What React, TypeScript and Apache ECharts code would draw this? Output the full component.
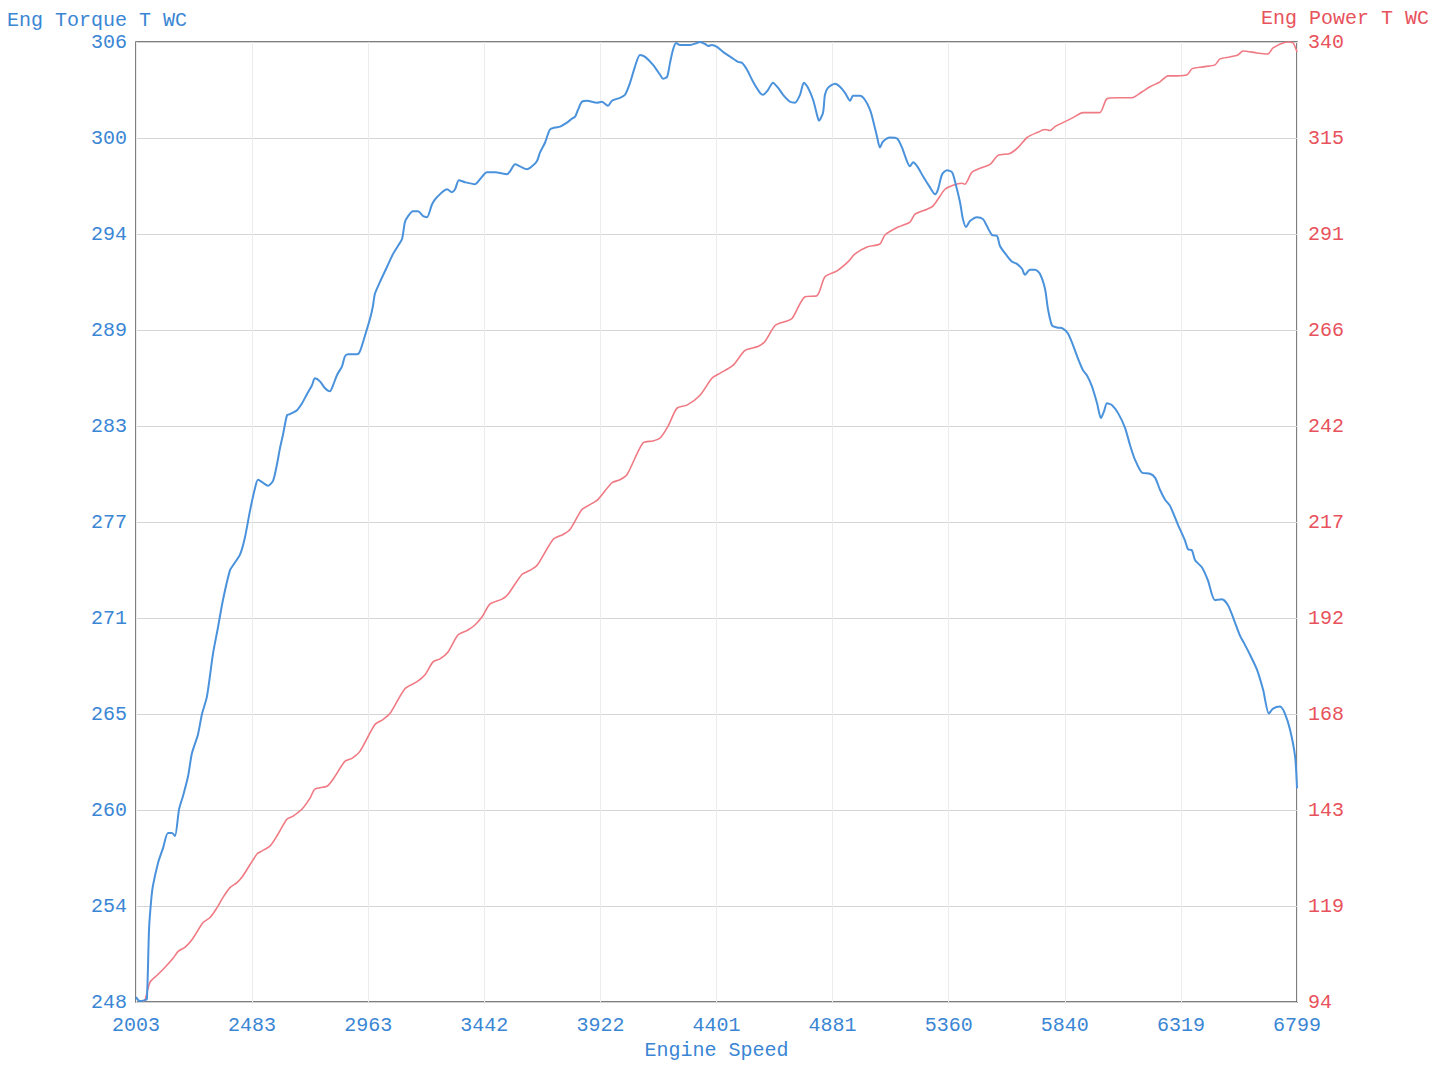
import React, { useEffect, useRef } from "react";
import * as echarts from "echarts";

const xTickLabels = ["2003", "2483", "2963", "3442", "3922", "4401", "4881", "5360", "5840", "6319", "6799"];
const torqueTickLabels = ["248", "254", "260", "265", "271", "277", "283", "289", "294", "300", "306"];
const powerTickLabels = ["94", "119", "143", "168", "192", "217", "242", "266", "291", "315", "340"];

const X_MIN = 2003, X_MAX = 6799, X_INT = 479.6;
const T_MIN = 248, T_MAX = 306, T_INT = 5.8;
const P_MIN = 94, P_MAX = 340, P_INT = 24.6;

// Engine speed (rpm) samples for the torque curve, and torque values
const torqueRpm = [
  2003, 2019, 2040, 2048, 2057, 2066, 2073, 2094, 2115, 2135, 2152, 2164, 2181, 2197, 2218, 2234, 2259, 2276, 2296,
  2321, 2342, 2362, 2391, 2404, 2433, 2453, 2474, 2495, 2507, 2528, 2548, 2569, 2585, 2598, 2610, 2627, 2639, 2668,
  2689, 2709, 2730, 2742, 2763, 2784, 2804, 2817, 2833, 2854, 2866, 2879, 2916, 2928, 2949, 2970, 2982, 2990, 3011,
  3040, 3065, 3085, 3102, 3114, 3127, 3147, 3168, 3189, 3205, 3226, 3246, 3288, 3308, 3321, 3337, 3362, 3403, 3424,
  3453, 3486, 3536, 3548, 3569, 3589, 3618, 3639, 3659, 3672, 3693, 3713, 3734, 3755, 3783, 3804, 3817, 3829, 3845,
  3866, 3907, 3928, 3940, 3953, 3969, 4002, 4023, 4044, 4064, 4085, 4106, 4139, 4168, 4180, 4197, 4209, 4221, 4234,
  4250, 4292, 4320, 4333, 4354, 4366, 4382, 4403, 4428, 4465, 4490, 4506, 4527, 4552, 4581, 4593, 4614, 4634, 4655,
  4676, 4705, 4725, 4746, 4762, 4779, 4800, 4816, 4824, 4841, 4849, 4862, 4891, 4911, 4932, 4953, 4965, 4994, 5014,
  5035, 5047, 5064, 5076, 5089, 5118, 5147, 5167, 5188, 5200, 5213, 5233, 5254, 5283, 5304, 5316, 5333, 5353, 5374,
  5386, 5407, 5419, 5432, 5448, 5477, 5502, 5518, 5539, 5560, 5572, 5601, 5622, 5642, 5663, 5675, 5696, 5717, 5737,
  5758, 5770, 5787, 5808, 5832, 5853, 5874, 5894, 5915, 5931, 5952, 5973, 5989, 6002, 6014, 6035, 6060, 6089, 6109,
  6130, 6159, 6192, 6213, 6233, 6254, 6274, 6307, 6336, 6349, 6365, 6378, 6406, 6431, 6460, 6489, 6514, 6539, 6564,
  6584, 6605, 6634, 6659, 6683, 6700, 6729, 6749, 6770, 6791, 6799,
];
const torqueValues = [
  248.3, 248.06, 248.12, 248.18, 252.45, 254.2, 255.03, 256.41, 257.32, 258.22, 258.22, 258.04, 259.66, 260.44, 261.64, 263.03, 264.17, 265.43, 266.45,
  269.04, 270.66, 272.28, 274.08, 274.39, 275.05, 276.07, 277.69, 279.07, 279.55, 279.37, 279.19, 279.49, 280.46, 281.48, 282.26, 283.46, 283.52, 283.76,
  284.18, 284.72, 285.26, 285.68, 285.5, 285.08, 284.9, 285.26, 285.87, 286.41, 287.01, 287.13, 287.13, 287.31, 288.27, 289.29, 290.07, 290.79, 291.51,
  292.42, 293.2, 293.68, 294.1, 295.12, 295.48, 295.78, 295.78, 295.48, 295.42, 296.2, 296.62, 297.1, 296.92, 297.1, 297.65, 297.53, 297.41, 297.71,
  298.13, 298.13, 298.01, 298.19, 298.61, 298.49, 298.31, 298.49, 298.79, 299.33, 299.93, 300.71, 300.83, 300.89, 301.13, 301.37, 301.49, 301.91, 302.39,
  302.45, 302.33, 302.39, 302.27, 302.15, 302.45, 302.63, 302.81, 303.54, 304.5, 305.22, 305.1, 304.62, 304.02, 303.78, 303.9, 304.74, 305.52, 305.94,
  305.82, 305.82, 305.94, 306.0, 305.88, 305.76, 305.82, 305.7, 305.4, 305.04, 304.8, 304.74, 304.32, 303.6, 302.93, 302.81, 303.11, 303.54, 303.24,
  302.81, 302.39, 302.33, 302.81, 303.54, 303.24, 302.51, 301.61, 301.25, 301.73, 302.81, 303.24, 303.48, 303.3, 302.93, 302.45, 302.75, 302.75, 302.51,
  301.91, 301.31, 300.29, 299.63, 299.99, 300.23, 300.17, 299.63, 298.79, 298.49, 298.73, 298.43, 297.89, 297.22, 296.8, 297.1, 298.01, 298.25, 298.13,
  297.59, 296.32, 295.3, 294.82, 295.18, 295.42, 295.3, 294.88, 294.34, 294.28, 293.68, 293.08, 292.72, 292.6, 292.3, 291.94, 292.24, 292.24, 292.0,
  291.09, 289.89, 288.87, 288.75, 288.69, 288.39, 287.67, 286.89, 286.17, 285.87, 285.2, 284.18, 283.28, 283.7, 284.18, 284.06, 283.58, 282.68, 281.66,
  280.76, 279.98, 279.92, 279.67, 278.95, 278.35, 277.99, 276.85, 275.89, 275.35, 275.29, 274.69, 274.27, 273.48, 272.28, 272.34, 271.98, 271.08, 270.12,
  269.58, 268.98, 268.07, 266.87, 265.43, 265.73, 265.85, 265.43, 264.47, 262.85, 260.92,
];

// Engine speed (rpm) samples for the power curve, and power values
const powerRpm = [
  2032, 2040, 2061, 2090, 2123, 2156, 2177, 2205, 2238, 2280, 2309, 2338, 2362, 2391, 2420, 2445, 2503, 2524, 2557,
  2585, 2627, 2652, 2689, 2722, 2742, 2792, 2817, 2866, 2895, 2928, 2990, 3023, 3052, 3114, 3164, 3197, 3230, 3259,
  3292, 3333, 3374, 3403, 3432, 3465, 3515, 3540, 3598, 3631, 3660, 3726, 3767, 3796, 3845, 3878, 3911, 3969, 4002,
  4031, 4097, 4139, 4168, 4201, 4238, 4279, 4333, 4382, 4415, 4469, 4519, 4572, 4601, 4643, 4684, 4713, 4767, 4816,
  4849, 4899, 4944, 4973, 5023, 5076, 5097, 5151, 5200, 5221, 5271, 5295, 5324, 5345, 5378, 5415, 5427, 5456, 5490,
  5531, 5564, 5613, 5647, 5684, 5725, 5758, 5779, 5799, 5832, 5874, 5915, 5956, 5985, 6014, 6055, 6117, 6159, 6192,
  6233, 6266, 6303, 6345, 6365, 6411, 6460, 6481, 6522, 6555, 6576, 6634, 6679, 6700, 6741, 6762, 6783, 6799,
];
const powerValues = [
  94.25, 94.51, 99.1, 100.88, 102.92, 105.22, 107.0, 108.02, 110.31, 114.39, 115.67, 118.22, 120.77, 123.32, 124.59, 126.38, 131.98, 132.75, 134.02,
  136.57, 140.91, 141.67, 143.46, 146.26, 148.55, 149.32, 151.1, 155.69, 156.46, 158.24, 165.12, 166.4, 167.93, 174.3, 176.09, 177.87, 181.18, 181.95,
  183.73, 188.07, 189.34, 190.62, 192.65, 195.97, 197.24, 198.52, 203.62, 204.64, 205.91, 212.54, 213.81, 215.09, 220.19, 221.46, 222.74, 227.07, 227.83,
  229.11, 237.27, 237.78, 238.54, 241.6, 246.19, 246.95, 249.5, 253.84, 255.11, 257.15, 260.97, 261.99, 263.27, 267.35, 268.37, 269.13, 274.74, 274.99,
  279.84, 281.37, 283.66, 285.7, 287.49, 288.25, 290.55, 292.58, 293.86, 295.9, 297.17, 297.94, 300.49, 302.27, 303.29, 303.8, 303.55, 306.61, 307.63,
  308.64, 310.94, 311.45, 312.98, 315.53, 316.8, 317.57, 317.31, 318.33, 319.35, 320.63, 321.9, 321.9, 321.9, 325.47, 325.72, 325.72, 327.25, 328.53,
  329.8, 331.33, 331.33, 331.59, 333.12, 333.63, 334.14, 335.67, 336.18, 336.69, 337.71, 337.2, 336.94, 338.47, 339.75, 340.0, 339.75, 337.45,
];

const BLUE_TEXT = "#3a86d4";
const RED_TEXT = "#e8525c";
const BLUE_LINE = "#4a92dc";
const RED_LINE = "#f07a84";
const FONT = "'Liberation Mono', 'DejaVu Sans Mono', monospace";

function labelFrom(labels: string[], min: number, interval: number) {
  return (v: number) => {
    const i = Math.round((v - min) / interval);
    return labels[i] ?? "";
  };
}

export default function App() {
  const ref = useRef<HTMLDivElement>(null);

  useEffect(() => {
    if (!ref.current) return;
    const chart = echarts.init(ref.current, null, { renderer: "svg" });
    const torqueData = torqueRpm.map((r, i) => [r, torqueValues[i]]);
    const powerData = powerRpm.map((r, i) => [r, powerValues[i]]);

    chart.setOption({
      animation: false,
      backgroundColor: "#ffffff",
      title: [
        {
          text: "Eng Torque T WC",
          left: 7,
          top: 10,
          padding: 0,
          textStyle: { color: BLUE_TEXT, fontFamily: FONT, fontSize: 20, fontWeight: "normal", lineHeight: 20 },
        },
        {
          text: "Eng Power T WC",
          right: 4,
          top: 8,
          padding: 0,
          textStyle: { color: RED_TEXT, fontFamily: FONT, fontSize: 20, fontWeight: "normal", lineHeight: 20 },
        },
      ],
      grid: {
        left: 136,
        top: 42,
        width: 1161,
        height: 965,
        show: true,
        borderColor: "#555555",
        borderWidth: 1.5,
        backgroundColor: "transparent",
      },
      xAxis: {
        type: "value",
        min: X_MIN,
        max: X_MAX,
        interval: X_INT,
        name: "Engine Speed",
        nameLocation: "middle",
        nameGap: 36,
        nameTextStyle: { color: BLUE_TEXT, fontFamily: FONT, fontSize: 20 },
        axisLine: { show: false },
        axisTick: { show: false },
        axisLabel: {
          color: BLUE_TEXT,
          fontFamily: FONT,
          fontSize: 20,
          margin: 13,
          showMinLabel: true,
          showMaxLabel: true,
          formatter: labelFrom(xTickLabels, X_MIN, X_INT),
        },
        splitLine: { show: true, lineStyle: { color: "#ececec", width: 1 } },
      },
      yAxis: [
        {
          type: "value",
          min: T_MIN,
          max: T_MAX,
          interval: T_INT,
          position: "left",
          axisLine: { show: false },
          axisTick: { show: false },
          axisLabel: {
            color: BLUE_TEXT,
            fontFamily: FONT,
            fontSize: 20,
            margin: 9,
            showMinLabel: true,
            showMaxLabel: true,
            formatter: labelFrom(torqueTickLabels, T_MIN, T_INT),
          },
          splitLine: { show: true, lineStyle: { color: "#d4d4d4", width: 1 } },
        },
        {
          type: "value",
          min: P_MIN,
          max: P_MAX,
          interval: P_INT,
          position: "right",
          axisLine: { show: false },
          axisTick: { show: false },
          axisLabel: {
            color: RED_TEXT,
            fontFamily: FONT,
            fontSize: 20,
            margin: 11,
            showMinLabel: true,
            showMaxLabel: true,
            formatter: labelFrom(powerTickLabels, P_MIN, P_INT),
          },
          splitLine: { show: false },
        },
      ],
      series: [
        {
          name: "Eng Torque T WC",
          type: "line",
          yAxisIndex: 0,
          data: torqueData,
          showSymbol: false,
          smooth: 0.25,
          lineStyle: { color: BLUE_LINE, width: 2 },
          itemStyle: { color: BLUE_LINE },
          z: 3,
        },
        {
          name: "Eng Power T WC",
          type: "line",
          yAxisIndex: 1,
          data: powerData,
          showSymbol: false,
          smooth: 0.25,
          lineStyle: { color: RED_LINE, width: 1.6 },
          itemStyle: { color: RED_LINE },
          z: 2,
        },
      ],
    });

    return () => chart.dispose();
  }, []);

  return (
    <div
      ref={ref}
      style={{ position: "absolute", left: 0, top: 0, width: 1433, height: 1065, background: "#fff" }}
    />
  );
}
